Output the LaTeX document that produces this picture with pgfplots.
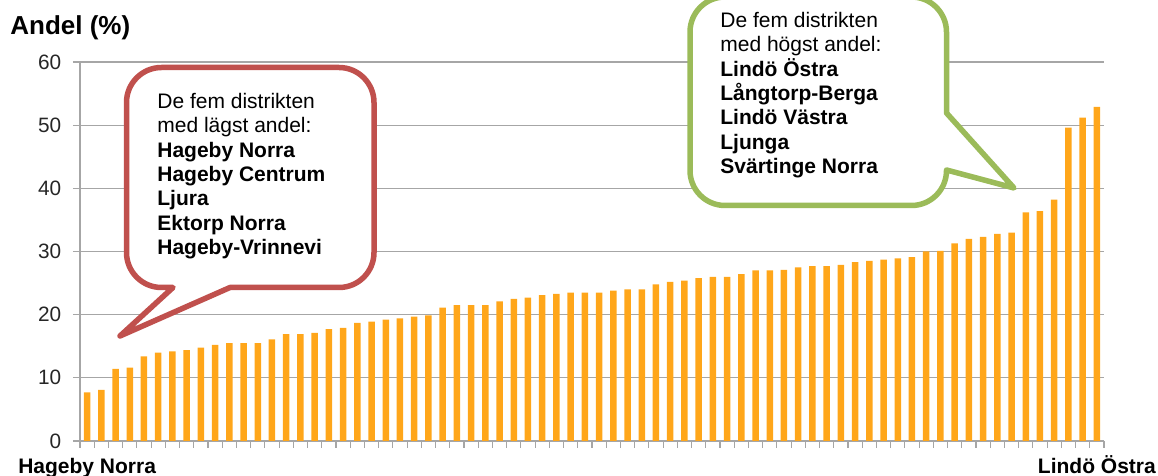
\documentclass[border=0pt]{standalone}
\usepackage{pgfplots}
\pgfplotsset{compat=1.18}
\usepackage{pgfplotstable}
\usepackage{fontspec}
\setmainfont{Liberation Sans}

\definecolor{barorange}{RGB}{255,166,26}
\definecolor{gridgray}{RGB}{166,166,166}
\definecolor{redbox}{RGB}{192,80,77}
\definecolor{greenbox}{RGB}{155,187,89}

% andel (%) per distrikt, sorterat stigande
\pgfplotstableread{
x y
1 7.7
2 8.1
3 11.4
4 11.6
5 13.4
6 14.0
7 14.2
8 14.4
9 14.8
10 15.2
11 15.5
12 15.5
13 15.5
14 16.1
15 16.9
16 16.9
17 17.1
18 17.7
19 17.9
20 18.7
21 18.9
22 19.2
23 19.4
24 19.7
25 19.9
26 21.1
27 21.5
28 21.5
29 21.5
30 22.1
31 22.5
32 22.7
33 23.1
34 23.3
35 23.5
36 23.5
37 23.5
38 23.8
39 24.0
40 24.0
41 24.8
42 25.2
43 25.4
44 25.8
45 26.0
46 26.0
47 26.4
48 27.0
49 27.0
50 27.1
51 27.5
52 27.7
53 27.7
54 27.9
55 28.3
56 28.5
57 28.7
58 28.9
59 29.1
60 30.0
61 30.1
62 31.3
63 32.0
64 32.3
65 32.8
66 33.0
67 36.2
68 36.4
69 38.2
70 49.6
71 51.2
72 52.9
}\andel

\newcommand{\boxfont}{\fontsize{10.5}{12.2}\selectfont}

\begin{document}
\begin{tikzpicture}
\useasboundingbox (-40pt,-17.5pt) rectangle (539pt,220.5pt);
\begin{axis}[
  at={(0pt,0pt)}, anchor=south west,
  scale only axis, width=512pt, height=189.5pt,
  ybar, bar width=3.25pt,
  xmin=0.5, xmax=72.5, ymin=0, ymax=60,
  ytick={0,10,...,60},
  xtick={0.5,1.5,...,72.5}, xticklabels={},
  extra x ticks={1,72},
  extra x tick labels={Hageby Norra,Lindö Östra},
  extra x tick style={major tick length=0pt,
    xticklabel style={font=\fontsize{10.5}{12}\selectfont\bfseries, anchor=base, inner sep=0pt, yshift=-16.2pt}},
  axis x line*=bottom, axis y line*=left,
  axis line style={gridgray, line width=0.6pt},
  tick style={gridgray, line width=0.6pt},
  tick align=outside, major tick length=3.5pt,
  ymajorgrids, grid style={gridgray, line width=0.6pt},
  yticklabel style={font=\fontsize{10.4}{12}\selectfont, text=black!85, anchor=east, inner sep=0pt, xshift=-5.7pt},
  /pgf/number format/assume math mode=true,
]
\addplot[fill=barorange, draw=none] table[x=x, y=y] {\andel};
\end{axis}

% titel
\node[anchor=base west, inner sep=0pt, font=\fontsize{13}{15}\selectfont\bfseries] at (-35pt,203.3pt) {Andel (\%)};

% pratbubbla, lägst
\draw[redbox, line width=2.75pt, fill=white, line join=round]
  (85pt,186.75pt) [rounded corners=17.5pt] -- (23.25pt,186.75pt) -- (23.25pt,76.75pt)
  [sharp corners] -- (46.5pt,76.75pt) -- (20pt,52.5pt) -- (75pt,76.75pt)
  [rounded corners=17.5pt] -- (147pt,76.75pt) -- (147pt,186.75pt)
  [sharp corners] -- cycle;
\begin{scope}[every node/.style={anchor=base west, inner sep=0pt, font=\boxfont}]
\node at (38.5pt,166.35pt) {De fem distrikten};
\node at (38.5pt,154.15pt) {med lägst andel:};
\node[font=\boxfont\bfseries] at (38.5pt,141.95pt) {Hageby Norra};
\node[font=\boxfont\bfseries] at (38.5pt,129.75pt) {Hageby Centrum};
\node[font=\boxfont\bfseries] at (38.5pt,117.55pt) {Ljura};
\node[font=\boxfont\bfseries] at (38.5pt,105.35pt) {Ektorp Norra};
\node[font=\boxfont\bfseries] at (38.5pt,93.15pt) {Hageby-Vrinnevi};
\end{scope}

% pratbubbla, högst
\draw[greenbox, line width=2.75pt, fill=white, line join=round]
  (370pt,222pt) [rounded corners=17.5pt] -- (305pt,222pt) -- (305pt,117.75pt)
  -- (433.25pt,117.75pt)
  [sharp corners] -- (433.25pt,135.5pt) -- (467pt,126.5pt) -- (433.25pt,164pt)
  [rounded corners=17.5pt] -- (433.25pt,222pt)
  [sharp corners] -- cycle;
\begin{scope}[every node/.style={anchor=base west, inner sep=0pt, font=\boxfont}]
\node at (320pt,206.85pt) {De fem distrikten};
\node at (320pt,194.65pt) {med högst andel:};
\node[font=\boxfont\bfseries] at (320pt,182.45pt) {Lindö Östra};
\node[font=\boxfont\bfseries] at (320pt,170.25pt) {Långtorp-Berga};
\node[font=\boxfont\bfseries] at (320pt,158.05pt) {Lindö Västra};
\node[font=\boxfont\bfseries] at (320pt,145.85pt) {Ljunga};
\node[font=\boxfont\bfseries] at (320pt,133.65pt) {Svärtinge Norra};
\end{scope}
\end{tikzpicture}
\end{document}
